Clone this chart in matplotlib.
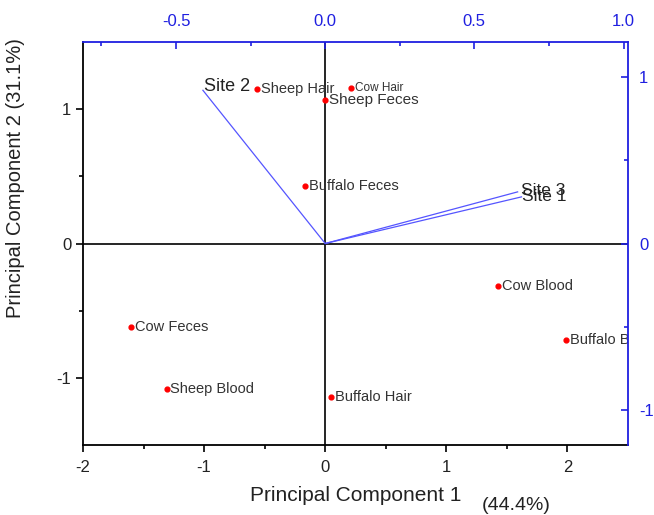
import matplotlib
matplotlib.use("Agg")
import matplotlib.pyplot as plt

plt.rcParams['font.family'] = ['Liberation Sans', 'DejaVu Sans']
plt.rcParams['axes.unicode_minus'] = False

# Scores (samples) - bottom / left axes
samples = ["Sheep Hair", "Cow Hair", "Sheep Feces", "Buffalo Feces", "Cow Blood",
           "Buffalo Blood", "Cow Feces", "Sheep Blood", "Buffalo Hair"]
pc1 = [-0.56, 0.215, 0.0, -0.165, 1.43, 1.99, -1.60, -1.31, 0.05]
pc2 = [1.15, 1.16, 1.07, 0.43, -0.32, -0.72, -0.62, -1.08, -1.14]
label_size = [10.5, 8.5, 11, 10.5, 10.5, 10.5, 10.5, 10.5, 10.5]

# Loadings (sites) - top / right axes
sites = ["Site 2", "Site 3", "Site 1"]
load1 = [-0.41, 0.645, 0.658]
load2 = [0.92, 0.31, 0.28]

blue = "#1f1fe0"

fig = plt.figure(figsize=(6.54, 5.15), dpi=100)
pos = [83 / 654, 70 / 515, 545 / 654, 403 / 515]
ax = fig.add_axes(pos)
ax.set_xlim(-2, 2.5)
ax.set_ylim(-1.5, 1.5)
ax.axhline(0, color="black", lw=1.2, zorder=1)
ax.axvline(0, color="black", lw=1.2, zorder=1)
ax.scatter(pc1, pc2, color="red", s=12, zorder=3)
for name, x, y, fs in zip(samples, pc1, pc2, label_size):
    ax.text(x + 0.03, y, name, fontsize=fs, color="#333333", va="center", ha="left",
            clip_on=True)
ax.set_xticks([-2, -1, 0, 1, 2])
ax.set_xticks([-1.5, -0.5, 0.5, 1.5], minor=True)
ax.set_yticks([-1, 0, 1])
ax.set_yticks([-0.5, 0.5], minor=True)
ax.tick_params(which="both", direction="out", labelsize=12, length=5, width=1.2,
               labelcolor="#222222")
ax.tick_params(axis="x", pad=6)
ax.tick_params(which="minor", length=3)
ax.spines["top"].set_visible(False)
ax.spines["right"].set_visible(False)
for s in ["left", "bottom"]:
    ax.spines[s].set_linewidth(1.3)
ax.set_xlabel("Principal Component 1", fontsize=15, color="#222222", labelpad=8)
ax.set_ylabel("Principal Component 2 (31.1%)", fontsize=14.5, color="#222222")
ax.yaxis.set_label_coords(-0.106, 0.663)
fig.text(516 / 654, 1 - 505 / 515, "(44.4%)", fontsize=14, color="#222222",
         ha="center", va="center")

ax2 = fig.add_axes(pos)
ax2.patch.set_visible(False)
ax2.set_xlim(-0.812, 1.015)
ax2.set_ylim(-1.21, 1.21)
ax2.xaxis.tick_top()
ax2.yaxis.tick_right()
ax2.set_xticks([-0.5, 0.0, 0.5, 1.0])
ax2.set_xticklabels(["-0.5", "0.0", "0.5", "1.0"])
ax2.set_xticks([-0.75, -0.25, 0.25, 0.75], minor=True)
ax2.set_yticks([-1, 0, 1])
ax2.set_yticks([-0.5, 0.5], minor=True)
ax2.tick_params(which="both", direction="in", colors=blue, labelsize=12, length=5, width=1.2)
ax2.tick_params(axis="x", pad=9)
ax2.tick_params(axis="y", pad=8)
ax2.tick_params(which="minor", length=3)
ax2.spines["left"].set_visible(False)
ax2.spines["bottom"].set_visible(False)
for s in ["top", "right"]:
    ax2.spines[s].set_color(blue)
    ax2.spines[s].set_linewidth(1.3)
for name, x, y in zip(sites, load1, load2):
    ax2.plot([0, x], [0, y], color="#5555ff", lw=0.9, zorder=2)
ax2.text(load1[0] + 0.005, load2[0] + 0.02, sites[0], fontsize=13, color="#222222",
         ha="left", va="center")
ax2.text(load1[1] + 0.01, load2[1] + 0.01, sites[1], fontsize=12.5, color="#222222",
         ha="left", va="center")
ax2.text(load1[2] + 0.0, load2[2] + 0.0, sites[2], fontsize=12.5, color="#222222",
         ha="left", va="center")

fig.savefig("out.png", dpi=100)
